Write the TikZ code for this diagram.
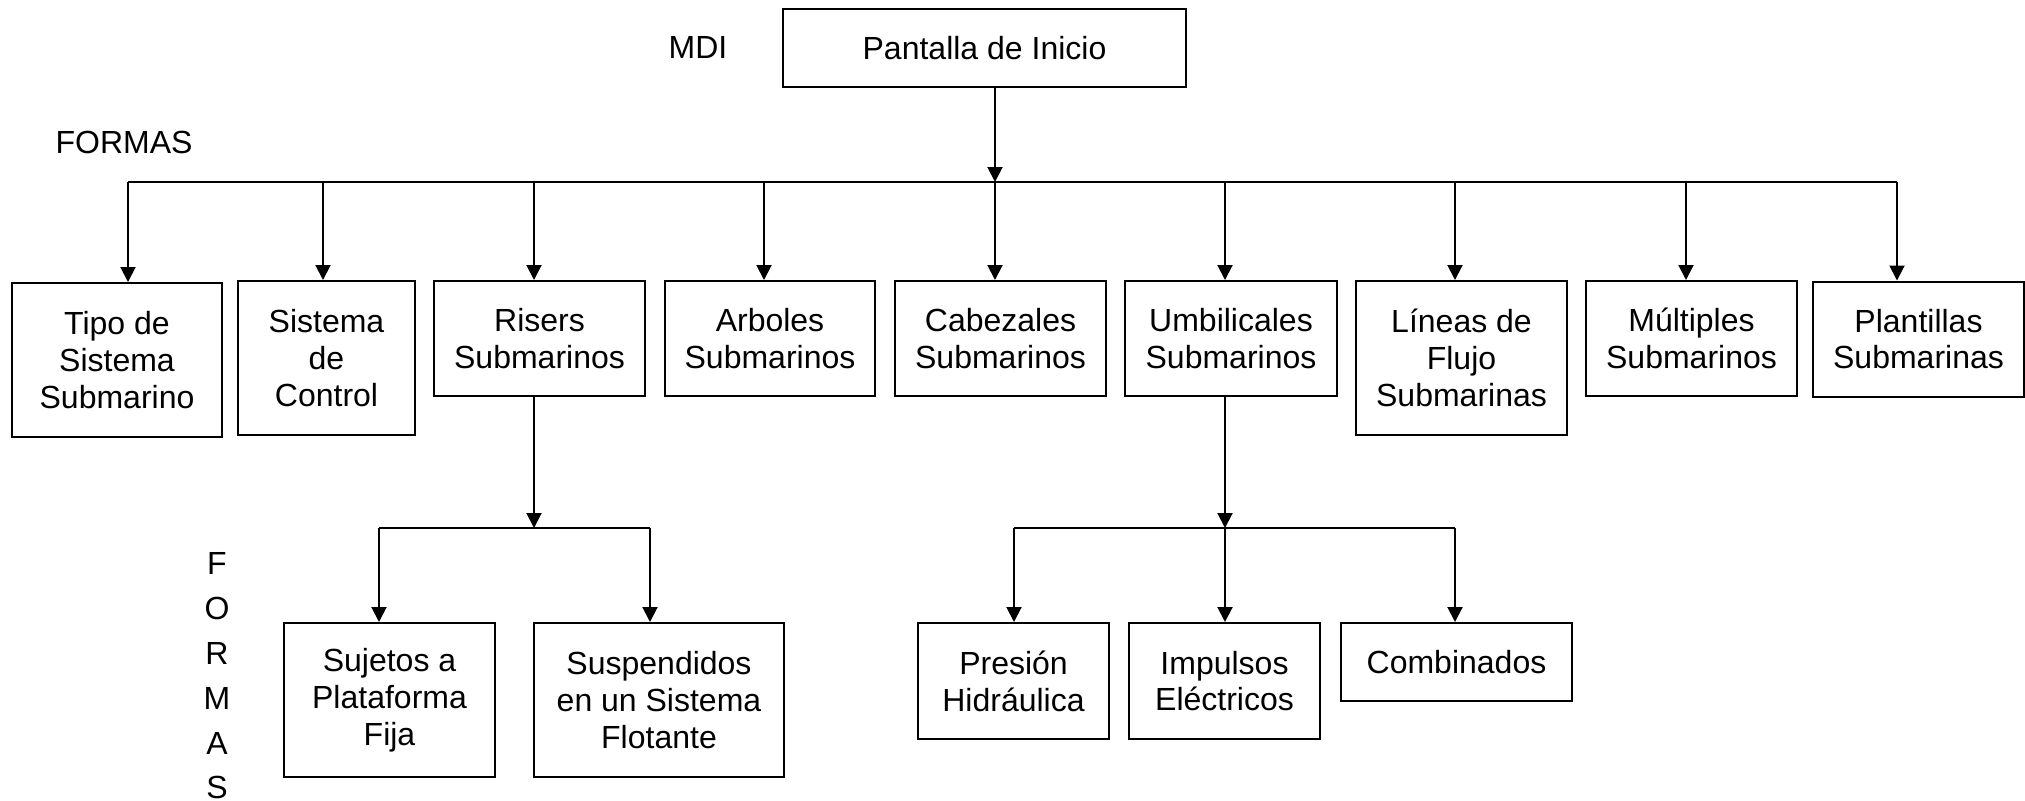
\documentclass[tikz,border=0pt]{standalone}
\usepackage{fontspec}
\setmainfont{Liberation Sans}
\usetikzlibrary{arrows.meta}

\begin{document}
\begin{tikzpicture}[x=0.5pt, y=-0.5pt, line width=1pt, font=\fontsize{16}{18.4}\selectfont]
	\tikzstyle{box} = [rectangle, draw=black, align=center, text centered, inner sep=2pt]
	\tikzstyle{flow} = [-{Triangle[width=7.5pt, length=7.5pt]}]
	\useasboundingbox (0, 0) rectangle (2025, 800);
	% labels
	\node (mdi) at (698, 47) {MDI};
	\node (formas) at (124, 142) {FORMAS};
	\node (formasv)[align=center, font=\fontsize{16}{22.4}\selectfont] at (217, 676) {F\\O\\R\\M\\A\\S};
	% main screen
	\node (inicio)[box, minimum width=201.5pt, minimum height=39pt] at (984.5, 48) {Pantalla de Inicio};
	% first level
	\node (tipo)[box, minimum width=105pt, minimum height=77pt] at (117, 360) {Tipo de\\Sistema\\Submarino};
	\node (sistema)[box, minimum width=88.5pt, minimum height=77pt] at (326.5, 358) {Sistema\\de\\Control};
	\node (risers)[box, minimum width=105.5pt, minimum height=57.5pt] at (539.5, 338.5) {Risers\\Submarinos};
	\node (arboles)[box, minimum width=105pt, minimum height=57.5pt] at (770, 338.5) {Arboles\\Submarinos};
	\node (cabezales)[box, minimum width=105.5pt, minimum height=57.5pt] at (1000.5, 338.5) {Cabezales\\Submarinos};
	\node (umbilicales)[box, minimum width=106pt, minimum height=57.5pt] at (1231, 338.5) {Umbilicales\\Submarinos};
	\node (lineas)[box, minimum width=105.5pt, minimum height=77pt] at (1461.5, 358) {Líneas de\\Flujo\\Submarinas};
	\node (multiples)[box, minimum width=105.5pt, minimum height=57.5pt] at (1691.5, 338.5) {Múltiples\\Submarinos};
	\node (plantillas)[box, minimum width=105.5pt, minimum height=57.5pt] at (1918.5, 339) {Plantillas\\Submarinas};
	% second level
	\node (sujetos)[box, minimum width=105.5pt, minimum height=77pt] at (389.5, 700) {Sujetos a\\Plataforma\\Fija};
	\node (suspendidos)[box, minimum width=125pt, minimum height=77pt] at (659, 700) {Suspendidos\\en un Sistema\\Flotante};
	\node (presion)[box, minimum width=95.5pt, minimum height=58pt] at (1013.5, 681) {Presión\\Hidráulica};
	\node (impulsos)[box, minimum width=95.5pt, minimum height=58pt] at (1224.5, 681) {Impulsos\\Eléctricos};
	\node (combinados)[box, minimum width=115.5pt, minimum height=39pt] at (1456.5, 662) {Combinados};
	% connectors
	\coordinate (bus) at (995, 182);
	\draw[flow] (inicio.south -| bus) -- (bus);
	\draw (128, 182) -- (1897, 182);
	\foreach \n/\x in {tipo/128, sistema/323, risers/534, arboles/764, cabezales/995, umbilicales/1225, lineas/1455, multiples/1686, plantillas/1897}
		\draw[flow] (\x, 182) -- (\x, 0 |- \n.north);
	\coordinate (rbus) at (534, 528);
	\draw[flow] (risers.south -| rbus) -- (rbus);
	\draw (379, 528) -- (650, 528);
	\foreach \n/\x in {sujetos/379, suspendidos/650}
		\draw[flow] (\x, 528) -- (\x, 0 |- \n.north);
	\coordinate (ubus) at (1225, 528);
	\draw[flow] (umbilicales.south -| ubus) -- (ubus);
	\draw (1014, 528) -- (1455, 528);
	\foreach \n/\x in {presion/1014, impulsos/1225, combinados/1455}
		\draw[flow] (\x, 528) -- (\x, 0 |- \n.north);
\end{tikzpicture}
\end{document}
